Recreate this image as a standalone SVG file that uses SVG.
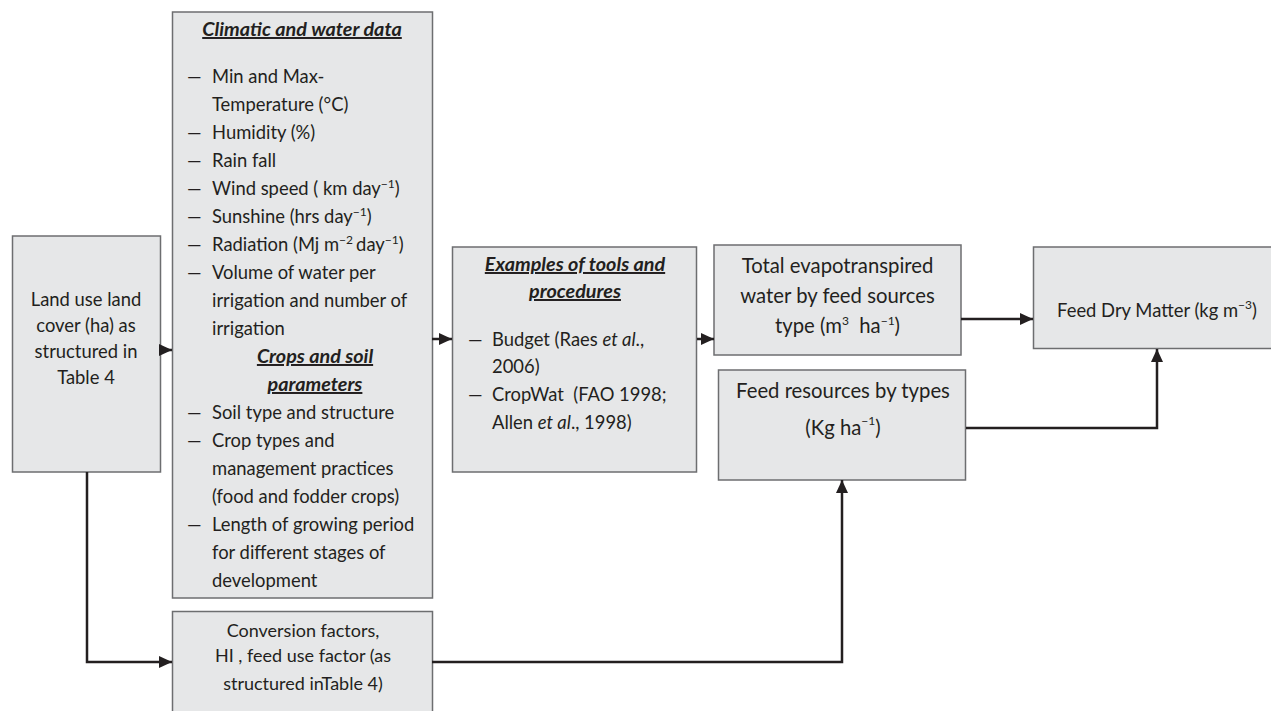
<svg xmlns="http://www.w3.org/2000/svg" width="1271" height="711" viewBox="0 0 1271 711">
<style>
.box{fill:#e6e7e8;stroke:#6d6e70;stroke-width:1.5}
.t{font-family:Lato,"Liberation Sans",sans-serif;font-size:18.4px;fill:#231f20}
.c{text-anchor:middle}
.h{font-weight:bold;font-style:italic;text-decoration:underline;font-size:19.8px}
.big{font-size:20.3px}
.s{font-size:12px}
.conn{fill:none;stroke:#231f20;stroke-width:2.5}
</style>
<defs>
<marker id="arr" viewBox="0 0 13 12" refX="13" refY="6" markerWidth="13" markerHeight="12" markerUnits="userSpaceOnUse" orient="auto">
<path d="M0,0 L13,6 L0,12 z" fill="#231f20"/>
</marker>
</defs>
<rect width="1271" height="711" fill="#ffffff"/>

<g id="land-use">
<rect class="box" x="12.5" y="236" width="148" height="236"/>
<text class="t c" x="86" y="306">Land use land</text>
<text class="t c" x="86" y="332">cover (ha) as</text>
<text class="t c" x="86" y="358">structured in</text>
<text class="t c" x="86" y="384">Table 4</text>
</g>

<g id="climatic">
<rect class="box" x="172.5" y="12" width="260" height="586"/>
<text class="t c h" x="302" y="36">Climatic and water data</text>
<g class="t">
<text x="187" y="83">—</text><text x="212" y="83">Min and Max-</text>
<text x="212" y="111">Temperature (°C)</text>
<text x="187" y="139">—</text><text x="212" y="139">Humidity (%)</text>
<text x="187" y="167">—</text><text x="212" y="167">Rain fall</text>
<text x="187" y="195">—</text><text x="212" y="195">Wind speed ( km day<tspan class="s" dy="-7">−1</tspan><tspan dy="7">)</tspan></text>
<text x="187" y="223">—</text><text x="212" y="223">Sunshine (hrs day<tspan class="s" dy="-7">−1</tspan><tspan dy="7">)</tspan></text>
<text x="187" y="251">—</text><text x="212" y="251">Radiation (Mj m<tspan class="s" dy="-7">−2 </tspan><tspan dy="7">day</tspan><tspan class="s" dy="-7">−1</tspan><tspan dy="7">)</tspan></text>
<text x="187" y="279">—</text><text x="212" y="279">Volume of water per</text>
<text x="212" y="307">irrigation and number of</text>
<text x="212" y="335">irrigation</text>
<text class="c h" x="315" y="363">Crops and soil</text>
<text class="c h" x="315" y="391">parameters</text>
<text x="187" y="419">—</text><text x="212" y="419">Soil type and structure</text>
<text x="187" y="447">—</text><text x="212" y="447">Crop types and</text>
<text x="212" y="475">management practices</text>
<text x="212" y="503">(food and fodder crops)</text>
<text x="187" y="531">—</text><text x="212" y="531">Length of growing period</text>
<text x="212" y="559">for different stages of</text>
<text x="212" y="587">development</text>
</g>
</g>

<g id="conversion">
<rect class="box" x="172.5" y="611.5" width="260" height="110"/>
<text class="t c" x="303" y="637" style="font-size:18px">Conversion factors,</text>
<text class="t c" x="303" y="662" style="font-size:18px">HI , feed use factor (as</text>
<text class="t c" x="303" y="690" style="font-size:18px">structured inTable 4)</text>
</g>

<g id="examples">
<rect class="box" x="452.5" y="247" width="244" height="225"/>
<text class="t c h" x="575" y="271">Examples of tools and</text>
<text class="t c h" x="575" y="298">procedures</text>
<g class="t">
<text x="468" y="346">—</text><text x="492" y="346">Budget (Raes <tspan font-style="italic">et al</tspan>.,</text>
<text x="492" y="373">2006)</text>
<text x="468" y="401">—</text><text x="492" y="401">CropWat&#160; (FAO 1998;</text>
<text x="492" y="429">Allen <tspan font-style="italic">et al</tspan>., 1998)</text>
</g>
</g>

<g id="evapotranspired">
<rect class="box" x="714" y="245" width="247" height="110"/>
<text class="t c big" x="837.5" y="273">Total evapotranspired</text>
<text class="t c big" x="837.5" y="303">water by feed sources</text>
<text class="t c big" x="837.5" y="333">type (m<tspan class="s" dy="-8">3</tspan><tspan dy="8">&#160; ha</tspan><tspan class="s" dy="-8">−1</tspan><tspan dy="8">)</tspan></text>
</g>

<g id="feed-resources">
<rect class="box" x="718.5" y="370" width="247" height="110"/>
<text class="t c big" x="843" y="398">Feed resources by types</text>
<text class="t c big" x="843" y="435">(Kg ha<tspan class="s" dy="-10">−1</tspan><tspan dy="10">)</tspan></text>
</g>

<g id="dry-matter">
<rect class="box" x="1033.5" y="247" width="250" height="101.5"/>
<text class="t c" x="1157" y="317">Feed Dry Matter (kg m<tspan class="s" dy="-8">−3</tspan><tspan dy="8">)</tspan></text>
</g>

<g id="connectors">
<path class="conn" d="M160,350 H172" marker-end="url(#arr)"/>
<path class="conn" d="M432,339 H452" marker-end="url(#arr)"/>
<path class="conn" d="M697,339 H714" marker-end="url(#arr)"/>
<path class="conn" d="M961,319 H1033" marker-end="url(#arr)"/>
<path class="conn" d="M966,428 H1157 V349" marker-end="url(#arr)"/>
<path class="conn" d="M432,662 H842 V480" marker-end="url(#arr)"/>
<path class="conn" d="M87,472 V662 H172" marker-end="url(#arr)"/>
</g>
</svg>
